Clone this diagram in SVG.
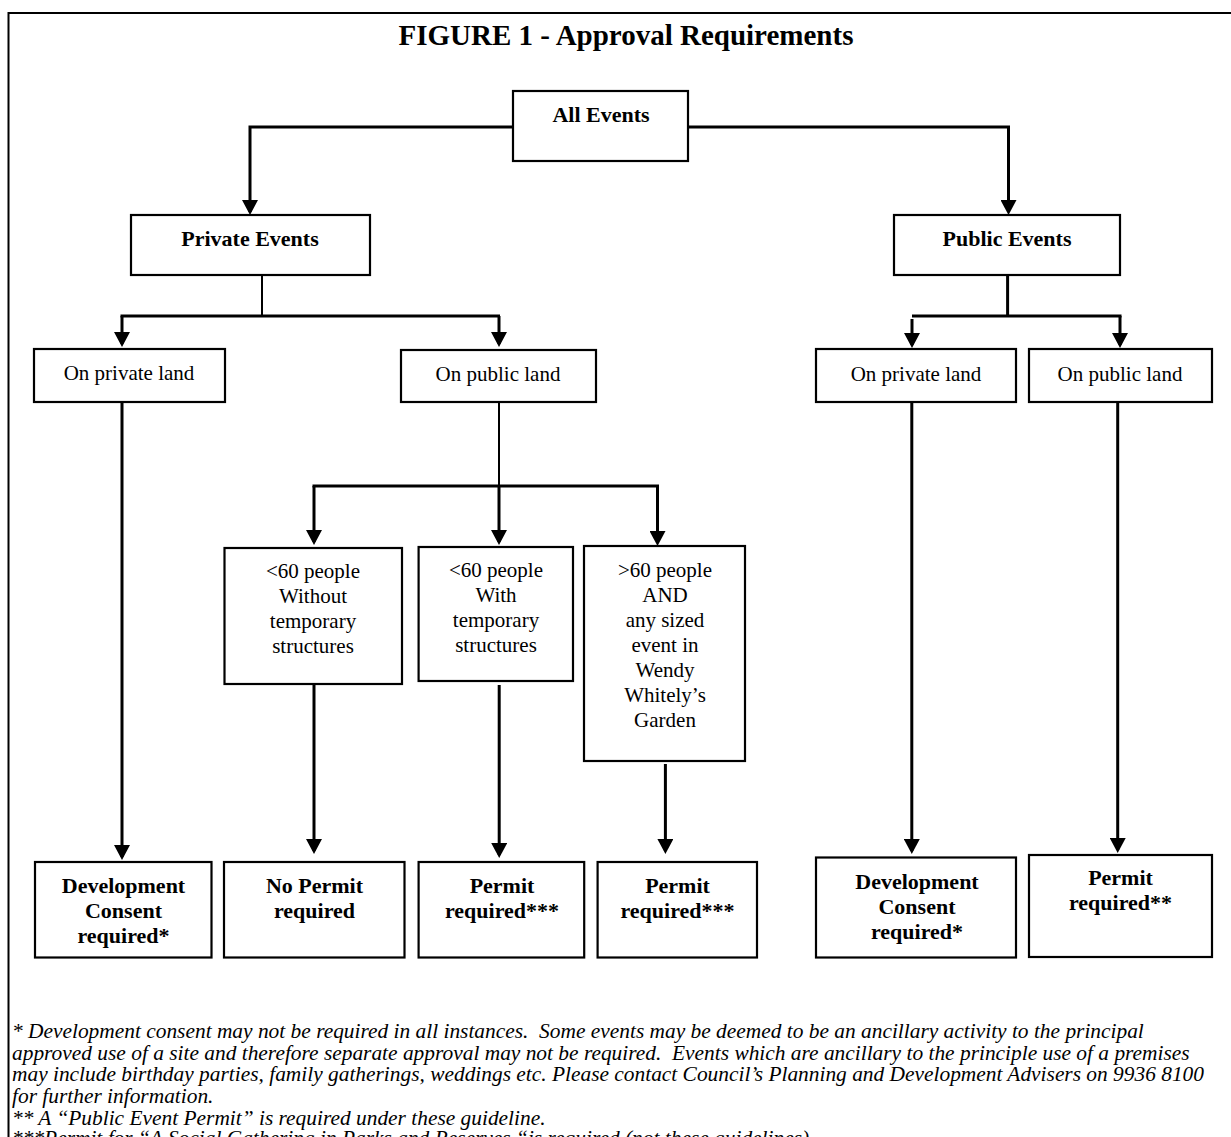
<svg xmlns="http://www.w3.org/2000/svg" width="1231" height="1137" viewBox="0 0 1231 1137">
<defs>
<marker id="arr" markerUnits="userSpaceOnUse" markerWidth="16" markerHeight="16" viewBox="0 0 15 16" refX="12" refY="8" orient="auto">
<path d="M0,0 L15,8 L0,16 Z" fill="#000"/>
</marker>
<style>
.box{fill:#fff;stroke:#000;stroke-width:2.2}
.b{font-family:"Liberation Serif",serif;font-weight:bold;font-size:22px;text-anchor:middle;fill:#000}
.r{font-family:"Liberation Serif",serif;font-size:21px;text-anchor:middle;fill:#000}
.c{fill:none;stroke:#000;stroke-width:3}
.t{fill:none;stroke:#000;stroke-width:2}
.a{fill:none;stroke:#000;stroke-width:3;marker-end:url(#arr)}
.fn{font-family:"Liberation Serif",serif;font-style:italic;font-size:21.4px;fill:#000;white-space:pre}
</style>
</defs>
<rect x="8.5" y="13" width="1240" height="1140" fill="#fff" stroke="#000" stroke-width="2"/>
<text x="626" y="45" font-family="Liberation Serif, serif" font-weight="bold" font-size="29" text-anchor="middle">FIGURE 1 - Approval Requirements</text>

<g id="connectors">
<polyline class="a" points="513,127 250,127 250,212"/>
<polyline class="a" points="688,127 1008.5,127 1008.5,212"/>
<line class="t" x1="262" y1="275" x2="262" y2="316"/>
<line class="c" x1="120.5" y1="316" x2="500" y2="316"/>
<line class="a" x1="122" y1="316" x2="122" y2="344"/>
<line class="a" x1="499" y1="316" x2="499" y2="344"/>
<line class="c" x1="1007.6" y1="275" x2="1007.6" y2="316"/>
<line class="c" x1="912" y1="316" x2="1121.5" y2="316"/>
<line class="a" x1="912" y1="319" x2="912" y2="345"/>
<line class="a" x1="1120" y1="316" x2="1120" y2="345"/>
<line class="t" x1="499" y1="402" x2="499" y2="486"/>
<line class="c" x1="312.5" y1="486" x2="659" y2="486"/>
<line class="a" x1="499" y1="486" x2="499" y2="542"/>
<line class="a" x1="314" y1="486" x2="314" y2="542"/>
<line class="a" x1="657.5" y1="486" x2="657.5" y2="543"/>
<line class="a" x1="122" y1="402" x2="122" y2="857"/>
<line class="a" x1="314" y1="684" x2="314" y2="851"/>
<line class="a" x1="499.2" y1="685" x2="499.2" y2="855"/>
<line class="a" x1="665.4" y1="764" x2="665.4" y2="851"/>
<line class="a" x1="911.8" y1="399" x2="911.8" y2="851"/>
<line class="a" x1="1117.7" y1="399" x2="1117.7" y2="850"/>
</g>

<g id="all-events"><rect class="box" x="513" y="91" width="175" height="70"/><text class="b" x="601" y="122">All Events</text></g>
<g id="private-events"><rect class="box" x="131" y="215" width="239" height="60"/><text class="b" x="250" y="246">Private Events</text></g>
<g id="public-events"><rect class="box" x="894" y="215" width="226" height="60"/><text class="b" x="1007" y="246">Public Events</text></g>
<g id="priv-private-land"><rect class="box" x="34" y="349" width="191" height="53"/><text class="r" x="129" y="380">On private land</text></g>
<g id="priv-public-land"><rect class="box" x="401" y="350" width="195" height="52"/><text class="r" x="498" y="381">On public land</text></g>
<g id="pub-private-land"><rect class="box" x="816" y="349" width="200" height="53"/><text class="r" x="916" y="381">On private land</text></g>
<g id="pub-public-land"><rect class="box" x="1029" y="349" width="183" height="53"/><text class="r" x="1120" y="381">On public land</text></g>
<g id="lt60-without"><rect class="box" x="224.5" y="548" width="177.5" height="136"/><text class="r" x="313" y="578">&lt;60 people<tspan x="313" dy="25">Without</tspan><tspan x="313" dy="25">temporary</tspan><tspan x="313" dy="25">structures</tspan></text></g>
<g id="lt60-with"><rect class="box" x="418.6" y="547" width="154.4" height="134"/><text class="r" x="496" y="577">&lt;60 people<tspan x="496" dy="25">With</tspan><tspan x="496" dy="25">temporary</tspan><tspan x="496" dy="25">structures</tspan></text></g>
<g id="gt60"><rect class="box" x="584" y="546" width="161" height="215"/><text class="r" x="665" y="577">&gt;60 people<tspan x="665" dy="25">AND</tspan><tspan x="665" dy="25">any sized</tspan><tspan x="665" dy="25">event in</tspan><tspan x="665" dy="25">Wendy</tspan><tspan x="665" dy="25">Whitely’s</tspan><tspan x="665" dy="25">Garden</tspan></text></g>
<g id="dev-consent-1"><rect class="box" x="35" y="862" width="176.5" height="95.5"/><text class="b" x="123.5" y="893">Development<tspan x="123.5" dy="25">Consent</tspan><tspan x="123.5" dy="25">required*</tspan></text></g>
<g id="no-permit"><rect class="box" x="224" y="862" width="180.5" height="95.5"/><text class="b" x="314.5" y="893">No Permit<tspan x="314.5" dy="25">required</tspan></text></g>
<g id="permit-1"><rect class="box" x="418.6" y="862" width="165.6" height="95.5"/><text class="b" x="502" y="893">Permit<tspan x="502" dy="25">required***</tspan></text></g>
<g id="permit-2"><rect class="box" x="597.6" y="862" width="159.4" height="95.5"/><text class="b" x="677.5" y="893">Permit<tspan x="677.5" dy="25">required***</tspan></text></g>
<g id="dev-consent-2"><rect class="box" x="816" y="857.5" width="200" height="100"/><text class="b" x="917" y="889">Development<tspan x="917" dy="25">Consent</tspan><tspan x="917" dy="25">required*</tspan></text></g>
<g id="permit-3"><rect class="box" x="1029" y="855" width="183" height="102"/><text class="b" x="1120.5" y="885">Permit<tspan x="1120.5" dy="25">required**</tspan></text></g>

<g id="footnotes">
<text class="fn" x="12" y="1038">* Development consent may not be required in all instances.  Some events may be deemed to be an ancillary activity to the principal</text>
<text class="fn" x="12" y="1059.7">approved use of a site and therefore separate approval may not be required.  Events which are ancillary to the principle use of a premises</text>
<text class="fn" x="12" y="1081.4" textLength="1192" lengthAdjust="spacing">may include birthday parties, family gatherings, weddings etc. Please contact Council’s Planning and Development Advisers on 9936 8100</text>
<text class="fn" x="12" y="1103">for further information.</text>
<text class="fn" x="12" y="1124.5">** A “Public Event Permit” is required under these guideline.</text>
<text class="fn" x="12" y="1145">***Permit for “A Social Gathering in Parks and Reserves “is required (not these guidelines).</text>
</g>
</svg>
